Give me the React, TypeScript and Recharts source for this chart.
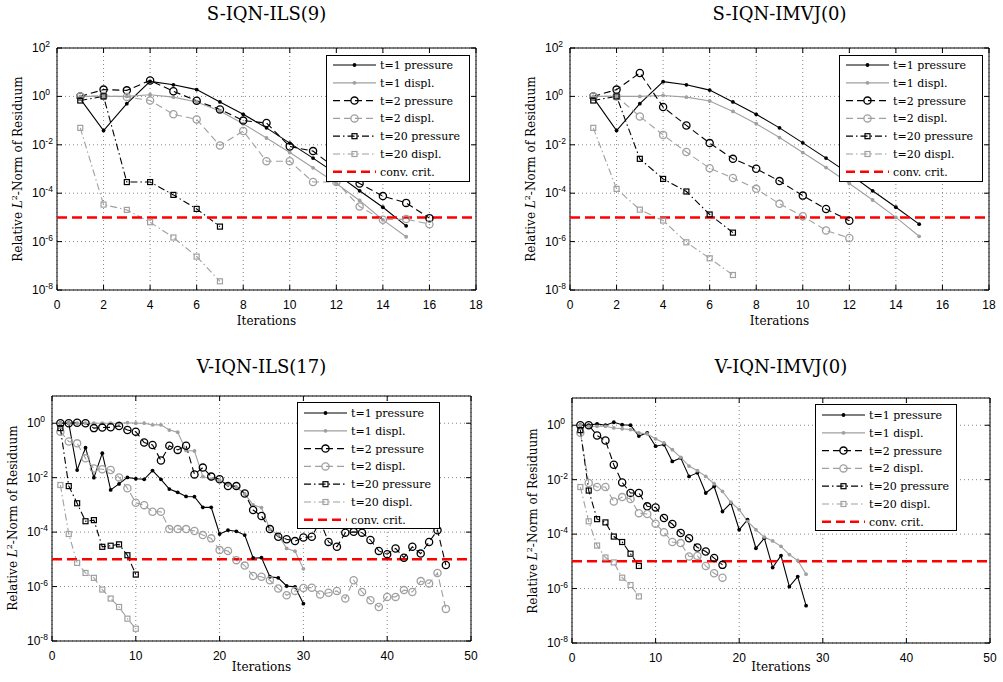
import React from 'react';
import { LineChart, Line, XAxis, YAxis, CartesianGrid, ReferenceLine, ReferenceArea, Legend } from 'recharts';

const SANS = '"Liberation Sans", Arial, Helvetica, sans-serif';
const SERIF = '"DejaVu Serif", "Liberation Serif", serif';
const BLACK = '#000000';
const GRAY = '#a0a0a0';
const RED = '#ff0000';

// Values are log10 of the relative L2 residual, iteration 1..n
// S-IQN-ILS(9)
const sIlsP1 = [-0.1, -1.41, -0.3, 0.62, 0.48, 0.28, -0.23, -0.74, -1.3, -1.93, -2.55, -3.2, -3.9, -4.58, -5.35];
const sIlsD1 = [0, 0, 0, 0.07, -0.03, -0.23, -0.6, -1.13, -1.72, -2.32, -2.95, -3.6, -4.3, -5.1, -5.8];
const sIlsP2 = [0, 0.28, 0.25, 0.66, 0.21, -0.18, -0.54, -1.0, -1.1, -2.07, -2.26, -3.0, -3.6, -4.12, -4.4, -5.03];
const sIlsD2 = [0, 0.02, -0.02, -0.17, -0.74, -0.95, -2.03, -1.43, -2.68, -2.68, -3.54, -3.54, -4.55, -5.1, -5.07, -5.28];
const sIlsP20 = [-0.17, 0, -3.54, -3.54, -4.07, -4.65, -5.38];
const sIlsD20 = [-1.3, -4.47, -4.69, -5.2, -5.83, -6.62, -7.64];

// S-IQN-IMVJ(0)
const sMvP1 = [-0.05, -1.41, -0.3, 0.61, 0.48, 0.26, -0.23, -0.74, -1.3, -1.92, -2.55, -3.2, -3.9, -4.58, -5.28];
const sMvD1 = [0, 0, 0, 0.04, -0.03, -0.19, -0.62, -1.13, -1.7, -2.32, -2.94, -3.6, -4.28, -5.0, -5.78];
const sMvP2 = [0, 0.28, 0.97, -0.44, -1.2, -1.93, -2.58, -2.99, -3.5, -4.1, -4.65, -5.14];
const sMvD2 = [0, 0, -0.83, -1.59, -2.3, -2.97, -3.37, -3.82, -4.44, -4.95, -5.54, -5.85];
const sMvP20 = [-0.17, 0, -2.58, -3.41, -3.93, -4.88, -5.63];
const sMvD20 = [-1.3, -3.82, -4.68, -5.13, -6.03, -6.69, -7.38];

// V-IQN-ILS(17)
const vIlsP1 = [0, 0, -1.72, -0.9, -2.0, -1.1, -2.45, -2.23, -1.99, -2.04, -2.06, -1.74, -2.06, -2.42, -2.54, -2.69, -2.7, -3.09, -3.09, -4.07, -3.93, -3.97, -4.11, -4.95, -4.94, -5.64, -5.68, -5.98, -6.01, -6.63];
const vIlsD1 = [0, 0, 0, 0, 0, 0, 0, 0, 0.02, 0, 0, -0.06, -0.06, -0.25, -0.33, -1.0, -1.02, -1.96, -2.05, -2.1, -2.25, -2.35, -2.6, -3.0, -3.1, -3.9, -4.1, -4.6, -4.7, -5.35];
const vIlsP2 = [0, 0, 0.02, 0, -0.18, -0.16, -0.15, -0.1, -0.25, -0.31, -0.71, -0.8, -1.37, -0.83, -0.98, -0.83, -1.88, -1.63, -1.96, -2.06, -2.31, -2.31, -2.58, -3.19, -3.41, -3.89, -4.17, -4.26, -4.33, -4.2, -4.17, -3.6, -4.36, -4.54, -4.02, -3.99, -4.02, -4.29, -4.69, -4.81, -4.6, -4.94, -4.54, -4.79, -4.36, -3.93, -5.21];
const vIlsD2 = [-0.31, -0.67, -0.74, -1.29, -1.66, -1.69, -1.72, -1.99, -2.39, -2.92, -3.01, -3.25, -3.25, -3.89, -3.89, -3.89, -3.96, -4.11, -4.23, -4.66, -4.69, -5.03, -5.23, -5.61, -5.64, -5.77, -6.07, -6.32, -6.16, -6.05, -6.04, -6.29, -6.23, -6.16, -6.44, -5.77, -6.2, -6.5, -6.75, -6.38, -6.38, -6.13, -6.2, -5.8, -5.89, -5.5, -6.82];
const vIlsP20 = [-0.18, -2.31, -2.94, -3.6, -3.56, -4.54, -4.5, -4.45, -4.85, -5.56];
const vIlsD20 = [-2.27, -4.07, -5.13, -5.5, -5.68, -6.11, -6.44, -6.75, -7.18, -7.55];

// V-IQN-IMVJ(0)
const vMvP1 = [0, 0, 0.05, 0, 0.11, 0.02, 0, -0.4, -0.28, -0.77, -0.71, -1.33, -1.2, -1.88, -1.75, -2.49, -2.25, -3.17, -2.86, -3.84, -3.47, -4.52, -4.15, -5.23, -4.79, -5.93, -5.56, -6.63];
const vMvD1 = [0, -0.04, -0.04, -0.04, -0.1, -0.13, -0.16, -0.28, -0.32, -0.5, -0.65, -0.9, -1.18, -1.5, -1.67, -1.88, -2.15, -2.43, -2.83, -3.1, -3.53, -3.84, -4.11, -4.25, -4.45, -4.75, -4.97, -5.47];
const vMvP2 = [0, 0, -0.38, -0.56, -1.45, -2.1, -2.49, -2.49, -2.98, -3.02, -3.41, -3.63, -3.96, -4.15, -4.49, -4.64, -4.88, -5.13];
const vMvD2 = [-0.28, -2.12, -2.27, -2.27, -2.8, -2.64, -2.71, -3.23, -3.26, -3.62, -3.93, -4.29, -4.33, -4.82, -4.8, -5.17, -5.44, -5.6];
const vMvP20 = [-0.18, -2.4, -3.45, -3.57, -4.09, -4.29, -4.72, -5.17];
const vMvD20 = [-2.27, -3.53, -4.42, -4.86, -5.04, -5.6, -5.87, -6.29];

const CONV_CRIT = 1e-5;

const titles = ['S-IQN-ILS(9)', 'S-IQN-IMVJ(0)', 'V-IQN-ILS(17)', 'V-IQN-IMVJ(0)'];
const legendLabels = ['t=1 pressure', 't=1 displ.', 't=2 pressure', 't=2 displ.', 't=20 pressure', 't=20 displ.', 'conv. crit.'];
const xLabel = 'Iterations';

const sXTicks = [0, 2, 4, 6, 8, 10, 12, 14, 16, 18];
const vXTicks = [0, 10, 20, 30, 40, 50];
const sYTicks = [1e-8, 1e-6, 1e-4, 1e-2, 1, 1e2];
const vYTicks = [1e-8, 1e-6, 1e-4, 1e-2, 1];

const seriesKeys = ['p1', 'd1', 'p2', 'd2', 'p20', 'd20'];
const seriesStyle = [
  { color: BLACK, dash: undefined, kind: 'dot' },
  { color: GRAY, dash: undefined, kind: 'dot' },
  { color: BLACK, dash: '7 4', kind: 'circle' },
  { color: GRAY, dash: '7 4', kind: 'circle' },
  { color: BLACK, dash: '7 3 1.5 3', kind: 'square' },
  { color: GRAY, dash: '7 3 1.5 3', kind: 'square' },
];

function buildRows(series: number[][]) {
  const n = Math.max(...series.map((s) => s.length));
  const rows: any[] = [];
  for (let i = 0; i < n; i++) {
    const row: any = { it: i + 1 };
    series.forEach((s, k) => {
      if (i < s.length) row[seriesKeys[k]] = Math.pow(10, s[i]);
    });
    rows.push(row);
  }
  return rows;
}

function Marker({ kind, color, cx, cy }: { kind: string; color: string; cx: number; cy: number }) {
  if (kind === 'dot') return <circle cx={cx} cy={cy} r={1.9} fill={color} stroke="none" />;
  if (kind === 'circle') return <circle cx={cx} cy={cy} r={3.6} fill="none" stroke={color} strokeWidth={1.3} />;
  return <rect x={cx - 2.5} y={cy - 2.5} width={5} height={5} fill="none" stroke={color} strokeWidth={1.2} />;
}

function LegendBox({ w, h, first, step }: { w: number; h: number; first: number; step: number }) {
  return (
    <svg width={w} height={h} style={{ display: 'block' }}>
      <rect x={0.5} y={0.5} width={w - 1} height={h - 1} fill="#fff" stroke="#000" strokeWidth={1} />
      {legendLabels.map((label, i) => {
        const cy = first + i * step;
        const st = seriesStyle[i];
        return (
          <g key={label}>
            {st ? (
              <>
                <line x1={7} x2={50} y1={cy} y2={cy} stroke={st.color} strokeWidth={1.2} strokeDasharray={st.dash} />
                <Marker kind={st.kind} color={st.color} cx={28.5} cy={cy} />
              </>
            ) : (
              <line x1={7} x2={50} y1={cy} y2={cy} stroke={RED} strokeWidth={2.5} strokeDasharray="9 5" />
            )}
            <text x={54} y={cy + 4} fontFamily={SERIF} fontSize={11} fill="#000">{label}</text>
          </g>
        );
      })}
    </svg>
  );
}

const XTick = (props: any) => {
  const { x, y, payload, plotTop } = props;
  return (
    <g>
      <line x1={x} x2={x} y1={y} y2={y - 5} stroke="#000" strokeWidth={1} />
      <line x1={x} x2={x} y1={plotTop} y2={plotTop + 5} stroke="#000" strokeWidth={1} />
      <text x={x} y={y + 19} textAnchor="middle" fontFamily={SANS} fontSize={12} fill="#000">{payload.value}</text>
    </g>
  );
};

const YTick = (props: any) => {
  const { x, y, payload, plotRight } = props;
  const exp = Math.round(Math.log10(payload.value));
  return (
    <g>
      <line x1={x} x2={x + 5} y1={y} y2={y} stroke="#000" strokeWidth={1} />
      <line x1={plotRight - 5} x2={plotRight} y1={y} y2={y} stroke="#000" strokeWidth={1} />
      <text x={x - 25} y={y + 4} fontFamily={SANS} fontSize={12} fill="#000">
        10<tspan dy={-5} fontSize={8.5}>{exp}</tspan>
      </text>
    </g>
  );
};

type PanelCfg = {
  left: number; top: number; plotW: number; plotH: number;
  xMax: number; xTicks: number[]; yMax: number; yTicks: number[];
  rows: any[]; legendX: number; legendY: number; legendW: number; legendFirst: number;
};

function Panel({ cfg }: { cfg: PanelCfg }) {
  const { left, top, plotW, plotH, xMax, xTicks, yMax, yTicks, rows, legendX, legendY, legendW, legendFirst } = cfg;
  const W = plotW + 60;
  const H = plotH + 40;
  const plotTop = 10;
  const plotRight = 50 + plotW;
  return (
    <div style={{ position: 'absolute', left: left - 50, top: top - 10, width: W, height: H }}>
      <LineChart width={W} height={H} data={rows} margin={{ top: 10, right: 10, bottom: 0, left: 0 }}>
        <CartesianGrid stroke="#7a7a7a" strokeDasharray="1 3" strokeWidth={0.9} />
        <XAxis
          dataKey="it" type="number" domain={[0, xMax]} ticks={xTicks} interval={0} height={30}
          tickSize={0} tickMargin={0} axisLine={false} tickLine={false} allowDataOverflow
          tick={(p: any) => <XTick {...p} plotTop={plotTop} />}
        />
        <YAxis
          type="number" scale="log" domain={[1e-8, yMax]} ticks={yTicks} interval={0} width={50}
          tickSize={0} tickMargin={0} axisLine={false} tickLine={false} allowDataOverflow
          tick={(p: any) => <YTick {...p} plotRight={plotRight} />}
        />
        {seriesKeys.map((key, k) => {
          const st = seriesStyle[k];
          return (
            <Line
              key={key}
              dataKey={key}
              type="linear"
              stroke={st.color}
              strokeWidth={1.1}
              strokeDasharray={st.dash}
              isAnimationActive={false}
              activeDot={false}
              legendType="none"
              dot={(p: any) => {
                const { cx, cy, index } = p;
                if (cx == null || cy == null || Number.isNaN(cx) || Number.isNaN(cy)) return <g key={`${key}-${index}`} />;
                return (
                  <g key={`${key}-${index}`}>
                    <Marker kind={st.kind} color={st.color} cx={cx} cy={cy} />
                  </g>
                );
              }}
            />
          );
        })}
        <ReferenceLine y={CONV_CRIT} stroke={RED} strokeWidth={2.5} strokeDasharray="10 5" />
        <ReferenceArea x1={0} x2={xMax} y1={1e-8} y2={yMax} fill="none" fillOpacity={0} stroke="#000" strokeWidth={1} ifOverflow="visible" />
        <Legend
          layout="vertical" align="center" verticalAlign="middle"
          wrapperStyle={{ left: legendX, top: legendY, width: legendW, height: 127 }}
          content={() => <LegendBox w={legendW} h={127} first={legendFirst} step={17.8} />}
        />
      </LineChart>
    </div>
  );
}

const panels: PanelCfg[] = [
  { left: 57, top: 48, plotW: 419, plotH: 242, xMax: 18, xTicks: sXTicks, yMax: 1e2, yTicks: sYTicks,
    rows: buildRows([sIlsP1, sIlsD1, sIlsP2, sIlsD2, sIlsP20, sIlsD20]), legendX: 319, legendY: 17, legendW: 144, legendFirst: 10 },
  { left: 570, top: 48, plotW: 419, plotH: 242, xMax: 18, xTicks: sXTicks, yMax: 1e2, yTicks: sYTicks,
    rows: buildRows([sMvP1, sMvD1, sMvP2, sMvD2, sMvP20, sMvD20]), legendX: 319, legendY: 17, legendW: 144, legendFirst: 10 },
  { left: 52, top: 396, plotW: 419, plotH: 245, xMax: 50, xTicks: vXTicks, yMax: 1e1, yTicks: vYTicks,
    rows: buildRows([vIlsP1, vIlsD1, vIlsP2, vIlsD2, vIlsP20, vIlsD20]), legendX: 295, legendY: 16, legendW: 143, legendFirst: 11 },
  { left: 572, top: 398, plotW: 418, plotH: 245, xMax: 50, xTicks: vXTicks, yMax: 1e1, yTicks: vYTicks,
    rows: buildRows([vMvP1, vMvD1, vMvP2, vMvD2, vMvP20, vMvD20]), legendX: 293, legendY: 16, legendW: 142, legendFirst: 11 },
];

const titlePos = [[266.5, 20], [779.5, 20], [261.5, 373], [781, 373]];
const xLabelPos = [[266.5, 325], [779.5, 325], [261.5, 671], [781, 671]];
const yLabelPos = [[18, 169], [531, 169], [13, 518], [533, 521]];

export default function App() {
  return (
    <div style={{ position: 'absolute', left: 0, top: 0, width: 1003, height: 682, background: '#fff', overflow: 'hidden' }}>
      <svg width={1003} height={682} style={{ position: 'absolute', left: 0, top: 0 }}>
        {titles.map((t, i) => (
          <text key={t} x={titlePos[i][0]} y={titlePos[i][1]} textAnchor="middle" fontFamily={SERIF} fontSize={18} fill="#000">{t}</text>
        ))}
        {xLabelPos.map((p, i) => (
          <text key={`xl${i}`} x={p[0]} y={p[1]} textAnchor="middle" fontFamily={SERIF} fontSize={12} fill="#000">{xLabel}</text>
        ))}
        {yLabelPos.map((p, i) => (
          <text key={`yl${i}`} transform={`translate(${p[0]},${p[1]}) rotate(-90)`} x={0} y={4} textAnchor="middle" fontFamily={SERIF} fontSize={12} fill="#000">
            Relative <tspan fontStyle="italic">L</tspan><tspan dy={-5} fontSize={8}>2</tspan><tspan dy={5}>-Norm of Residuum</tspan>
          </text>
        ))}
      </svg>
      {panels.map((cfg, i) => (
        <Panel key={i} cfg={cfg} />
      ))}
    </div>
  );
}
